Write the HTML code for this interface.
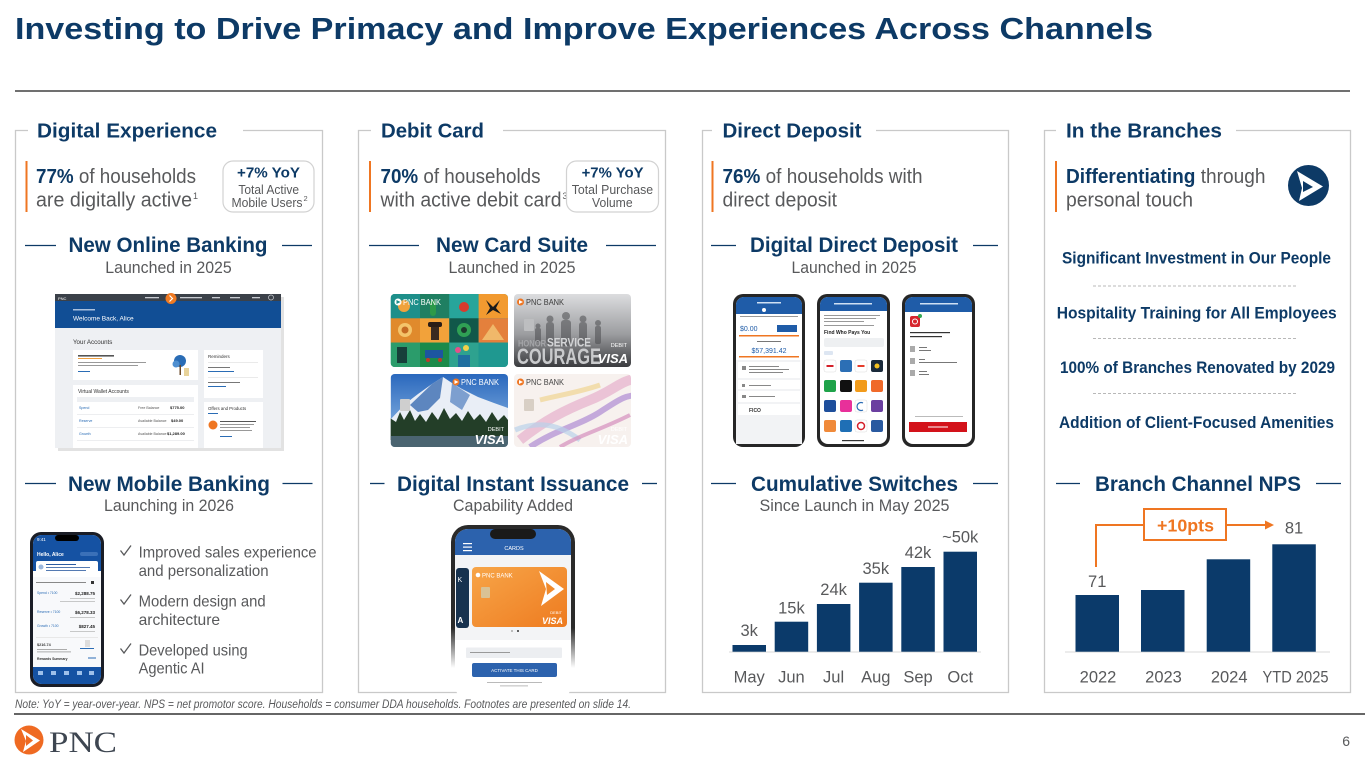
<!DOCTYPE html>
<html><head><meta charset="utf-8"><style>
html,body{margin:0;padding:0;background:#fff;}
svg{display:block;}
text{font-family:"Liberation Sans",sans-serif;}
.nv{fill:#0d3a66;}
.gr{fill:#58595b;}
.b{font-weight:bold;}
.serif{font-family:"Liberation Serif",serif;}
</style></head><body>
<svg width="1365" height="768" viewBox="0 0 1365 768" xmlns="http://www.w3.org/2000/svg">
<defs>
 <linearGradient id="gTR" x1="0" y1="0" x2="0" y2="1"><stop offset="0" stop-color="#dcdddf"/><stop offset="0.55" stop-color="#9c9da0"/><stop offset="1" stop-color="#3a3b3e"/></linearGradient>
 <linearGradient id="gSky" x1="0" y1="0" x2="0" y2="1"><stop offset="0" stop-color="#2a68bd"/><stop offset="1" stop-color="#9cc3ea"/></linearGradient>
 <linearGradient id="gOr" x1="0" y1="0" x2="1" y2="1"><stop offset="0" stop-color="#f7a548"/><stop offset="1" stop-color="#ee7b20"/></linearGradient>
 <linearGradient id="gFrame" gradientUnits="userSpaceOnUse" x1="0" y1="525" x2="0" y2="668"><stop offset="0.72" stop-color="#2a2a2a"/><stop offset="1" stop-color="#2a2a2a" stop-opacity="0"/></linearGradient>
 <clipPath id="cTL"><rect x="390.7" y="294" width="117.3" height="73" rx="4"/></clipPath>
 <clipPath id="cTR"><rect x="514" y="294" width="117" height="73" rx="4"/></clipPath>
 <clipPath id="cBL"><rect x="390.7" y="374" width="117.3" height="73" rx="4"/></clipPath>
 <clipPath id="cBR"><rect x="514" y="374" width="117" height="73" rx="4"/></clipPath>
 <clipPath id="cP1"><rect x="33" y="535" width="68" height="149" rx="9"/></clipPath>
 <clipPath id="cP2"><rect x="455" y="529" width="116" height="170" rx="13"/></clipPath>
</defs>

<!-- Title -->
<text x="15" y="39" font-size="31" class="nv b" textLength="1138" lengthAdjust="spacingAndGlyphs">Investing to Drive Primacy and Improve Experiences Across Channels</text>
<rect x="15" y="90" width="1335" height="2" fill="#707070"/>

<!-- Panels -->
<g fill="none" stroke="#c9c9c9" stroke-width="1.3">
 <path d="M28 130.5 H15.5 V692.5 H322.5 V130.5 H243"/>
 <path d="M371 130.5 H358.5 V692.5 H665.5 V130.5 H503"/>
 <path d="M712 130.5 H702.5 V692.5 H1008.5 V130.5 H876"/>
 <path d="M1056 130.5 H1044.5 V692.5 H1350.5 V130.5 H1236"/>
</g>

<!-- Panel headers -->
<g font-size="20.5" class="nv b">
 <text x="37" y="137.5" textLength="180" lengthAdjust="spacingAndGlyphs">Digital Experience</text>
 <text x="381" y="137.5" textLength="103" lengthAdjust="spacingAndGlyphs">Debit Card</text>
 <text x="722.5" y="137.5" textLength="139" lengthAdjust="spacingAndGlyphs">Direct Deposit</text>
 <text x="1066" y="137.5" textLength="156" lengthAdjust="spacingAndGlyphs">In the Branches</text>
</g>

<!-- orange bars -->
<g fill="#ef7622">
 <rect x="25.5" y="161" width="2" height="51"/>
 <rect x="369" y="161" width="2" height="51"/>
 <rect x="711.5" y="161" width="2" height="51"/>
 <rect x="1055" y="161" width="2" height="51"/>
</g>

<!-- stat texts -->
<g font-size="20" class="gr">
 <text x="36" y="183" textLength="160" lengthAdjust="spacingAndGlyphs"><tspan class="nv b">77%</tspan> of households</text>
 <text x="36" y="206.5" textLength="156" lengthAdjust="spacingAndGlyphs">are digitally active</text>
 <text x="193" y="199" font-size="9">1</text>
 <text x="380.5" y="183" textLength="160" lengthAdjust="spacingAndGlyphs"><tspan class="nv b">70%</tspan> of households</text>
 <text x="380.5" y="206.5" textLength="181" lengthAdjust="spacingAndGlyphs">with active debit card</text>
 <text x="562.5" y="199" font-size="9">3</text>
 <text x="722.5" y="183" textLength="200" lengthAdjust="spacingAndGlyphs"><tspan class="nv b">76%</tspan> of households with</text>
 <text x="722.5" y="206.5" textLength="114.5" lengthAdjust="spacingAndGlyphs">direct deposit</text>
 <text x="1066" y="183" textLength="199.5" lengthAdjust="spacingAndGlyphs"><tspan class="nv b">Differentiating</tspan> through</text>
 <text x="1066" y="206.5" textLength="127" lengthAdjust="spacingAndGlyphs">personal touch</text>
</g>

<!-- YoY boxes -->
<rect x="223" y="161" width="91" height="51" rx="10" fill="none" stroke="#d2d2d2" stroke-width="1.2"/>
<rect x="566.5" y="161" width="92" height="51" rx="10" fill="none" stroke="#d2d2d2" stroke-width="1.2"/>
<g text-anchor="middle">
 <text x="268.5" y="177.3" font-size="15" class="nv b" textLength="63" lengthAdjust="spacingAndGlyphs">+7% YoY</text>
 <text x="268.7" y="194" font-size="13" class="gr" textLength="60.7" lengthAdjust="spacingAndGlyphs">Total Active</text>
 <text x="267" y="207" font-size="13" class="gr" textLength="71" lengthAdjust="spacingAndGlyphs">Mobile Users</text>
 <text x="612.6" y="177.3" font-size="15" class="nv b" textLength="62" lengthAdjust="spacingAndGlyphs">+7% YoY</text>
 <text x="612.4" y="194" font-size="13" class="gr" textLength="81.3" lengthAdjust="spacingAndGlyphs">Total Purchase</text>
 <text x="612.3" y="207" font-size="13" class="gr" textLength="40.6" lengthAdjust="spacingAndGlyphs">Volume</text>
</g>
<text x="303.5" y="201" font-size="7.5" class="gr">2</text>

<!-- PNC logo panel 4 -->
<circle cx="1308.5" cy="185.5" r="20.5" fill="#0d3a66"/>
<polygon points="1297,171 1323,186.5 1299,201 1302,188" fill="#fff"/>
<polygon points="1303,181 1313,187 1303,192" fill="#0d3a66"/>

<!-- top subheaders -->
<g font-size="21" class="nv b" text-anchor="middle">
 <text x="168" y="252" textLength="199" lengthAdjust="spacingAndGlyphs">New Online Banking</text>
 <text x="512" y="252" textLength="152" lengthAdjust="spacingAndGlyphs">New Card Suite</text>
 <text x="854" y="252" textLength="208" lengthAdjust="spacingAndGlyphs">Digital Direct Deposit</text>
</g>
<g stroke="#0d3a66" stroke-width="1.3">
 <line x1="25" y1="245.5" x2="56" y2="245.5"/><line x1="282" y1="245.5" x2="312" y2="245.5"/>
 <line x1="369" y1="245.5" x2="419" y2="245.5"/><line x1="606" y1="245.5" x2="656" y2="245.5"/>
 <line x1="711" y1="245.5" x2="736" y2="245.5"/><line x1="973" y1="245.5" x2="998" y2="245.5"/>
</g>
<g font-size="16.5" class="gr" text-anchor="middle">
 <text x="168.5" y="273" textLength="126.5" lengthAdjust="spacingAndGlyphs">Launched in 2025</text>
 <text x="512" y="273" textLength="127" lengthAdjust="spacingAndGlyphs">Launched in 2025</text>
 <text x="854" y="273" textLength="125" lengthAdjust="spacingAndGlyphs">Launched in 2025</text>
</g>

<!-- Panel 4 list -->
<g font-size="17" class="nv b" text-anchor="middle">
 <text x="1196.5" y="263.3" textLength="269" lengthAdjust="spacingAndGlyphs">Significant Investment in Our People</text>
 <text x="1196.7" y="318.3" textLength="280" lengthAdjust="spacingAndGlyphs">Hospitality Training for All Employees</text>
 <text x="1197.5" y="373" textLength="275" lengthAdjust="spacingAndGlyphs">100% of Branches Renovated by 2029</text>
 <text x="1196.5" y="428" textLength="275" lengthAdjust="spacingAndGlyphs">Addition of Client-Focused Amenities</text>
</g>
<g stroke="#b8b8b8" stroke-width="1" stroke-dasharray="3 2">
 <line x1="1093" y1="286" x2="1298" y2="286"/>
 <line x1="1093" y1="338.5" x2="1298" y2="338.5"/>
 <line x1="1093" y1="393.5" x2="1298" y2="393.5"/>
</g>

<!-- Online banking screenshot -->
<g>
 <rect x="58" y="297" width="226" height="154" fill="#cfcfcf" opacity="0.6"/>
 <rect x="55" y="294" width="226" height="154" fill="#eef0f3"/>
 <rect x="55" y="294" width="226" height="7" fill="#3b4149"/>
 <rect x="55" y="301" width="226" height="27" fill="#114e95"/>
 <text x="58" y="299.8" font-size="4" fill="#fff">PNC</text>
 <g fill="#c8ccd2"><rect x="145" y="297" width="14" height="1.3"/><rect x="180" y="297" width="22" height="1.3"/><rect x="212" y="297" width="8" height="1.3"/><rect x="230" y="297" width="10" height="1.3"/><rect x="252" y="297" width="8" height="1.3"/></g>
 <circle cx="271" cy="297.5" r="2.5" fill="none" stroke="#c8ccd2" stroke-width="0.7"/>
 <circle cx="171" cy="298.5" r="5.5" fill="#f07a22"/>
 <path d="M169.5 295.5 L172.5 298.5 L169.5 301.5" stroke="#fff" stroke-width="1.2" fill="none"/>
 <rect x="73" y="309" width="22" height="1.5" fill="#a9c0de"/>
 <text x="73" y="320.5" font-size="6.5" fill="#fff">Welcome Back, Alice</text>
 <text x="73" y="344" font-size="6.2" fill="#333">Your Accounts</text>
 <rect x="73" y="350" width="125" height="30" fill="#fff"/>
 <rect x="78" y="355" width="36" height="1.6" fill="#555"/>
 <rect x="78" y="358" width="24" height="1" fill="#f0a040"/>
 <rect x="78" y="362" width="68" height="1" fill="#999"/><rect x="78" y="365" width="60" height="1" fill="#999"/>
 <rect x="78" y="371" width="12" height="1" fill="#2a6cb5"/>
 <circle cx="180" cy="361" r="6" fill="#2a6cb5"/><circle cx="176" cy="364" r="3.5" fill="#4f8fd0"/><rect x="179.5" y="365" width="1.5" height="10" fill="#6b4a2a"/>
 <rect x="184" y="368" width="5" height="8" fill="#e8d39a"/>
 <rect x="73" y="385" width="125" height="63" fill="#fff"/>
 <text x="78" y="393" font-size="5" fill="#333">Virtual Wallet Accounts</text>
 <rect x="77" y="397" width="117" height="5" fill="#eef0f3"/>
 <g font-size="3.6" fill="#2a6cb5"><text x="79" y="409">Spend</text><text x="79" y="422">Reserve</text><text x="79" y="435">Growth</text></g>
 <g font-size="3.6" fill="#555"><text x="138" y="409">Free Balance</text><text x="138" y="422">Available Balance</text><text x="138" y="435">Available Balance</text></g>
 <g font-size="4" fill="#222" font-weight="bold"><text x="170" y="409">$775.00</text><text x="171" y="422">$49.00</text><text x="167" y="435">$1,289.00</text></g>
 <g fill="#e5e7ea"><rect x="77" y="414" width="117" height="0.7"/><rect x="77" y="427" width="117" height="0.7"/><rect x="77" y="440" width="117" height="0.7"/></g>
 <rect x="204" y="350" width="59" height="48" fill="#fff"/>
 <text x="208" y="358" font-size="4.5" fill="#333">Reminders</text>
 <rect x="208" y="362" width="50" height="0.6" fill="#ddd"/>
 <rect x="208" y="367" width="22" height="1" fill="#777"/><rect x="208" y="371" width="26" height="1" fill="#2a6cb5"/>
 <rect x="208" y="377" width="50" height="0.6" fill="#ddd"/>
 <rect x="208" y="382" width="32" height="1" fill="#777"/><rect x="208" y="386" width="18" height="1" fill="#2a6cb5"/>
 <rect x="204" y="402" width="59" height="46" fill="#fff"/>
 <text x="208" y="410" font-size="4.3" fill="#333">Offers and Products</text>
 <rect x="208" y="413" width="10" height="1" fill="#2a6cb5"/>
 <circle cx="213" cy="425" r="4.5" fill="#ef7622"/>
 <rect x="220" y="421" width="36" height="1" fill="#555"/><rect x="220" y="424" width="34" height="1" fill="#999"/><rect x="220" y="427" width="30" height="1" fill="#999"/><rect x="220" y="430" width="32" height="1" fill="#999"/>
 <rect x="220" y="436" width="12" height="1" fill="#2a6cb5"/>
</g>

<!-- Debit cards -->
<g clip-path="url(#cTL)">
 <rect x="390.7" y="294" width="117.3" height="73" fill="#1f968f"/>
 <rect x="390.7" y="294" width="29.3" height="24.3" fill="#1d8f8a"/>
 <rect x="420" y="294" width="29.3" height="24.3" fill="#1f7f62"/>
 <rect x="449.3" y="294" width="29.3" height="24.3" fill="#27a59b"/>
 <rect x="478.6" y="294" width="29.4" height="24.3" fill="#f29a30"/>
 <rect x="390.7" y="318.3" width="29.3" height="24.3" fill="#e08a2c"/>
 <rect x="420" y="318.3" width="29.3" height="24.3" fill="#f2a23a"/>
 <rect x="449.3" y="318.3" width="29.3" height="24.3" fill="#11584a"/>
 <rect x="478.6" y="318.3" width="29.4" height="24.3" fill="#e4803c"/>
 <rect x="390.7" y="342.6" width="29.3" height="24.4" fill="#2b9c6b"/>
 <rect x="420" y="342.6" width="29.3" height="24.4" fill="#1c8a4a"/>
 <rect x="449.3" y="342.6" width="29.3" height="24.4" fill="#2ea28f"/>
 <rect x="478.6" y="342.6" width="29.4" height="24.4" fill="#1f9890"/>
 <circle cx="404" cy="306" r="6" fill="#f0a23c"/>
 <rect x="430" y="300" width="6" height="16" rx="3" fill="#2c9a49"/>
 <circle cx="464" cy="307" r="5" fill="#d93b2e"/>
 <path d="M486 300 L493 307 L500 300 L496 308 L501 314 L493 310 L486 315 L490 308 Z" fill="#1b1b1b"/>
 <circle cx="405" cy="330" r="7" fill="#f4c46a"/><circle cx="405" cy="330" r="3.5" fill="#c56a22"/>
 <rect x="428" y="322" width="14" height="5" rx="2" fill="#2a1d16"/><rect x="431" y="327" width="8" height="13" fill="#3a2a20"/>
 <circle cx="464" cy="330" r="7" fill="#2fa054"/><circle cx="464" cy="330" r="3" fill="#1b3b2e"/>
 <polygon points="482,340 493,324 504,340" fill="#f0b86a"/>
 <rect x="397" y="347" width="10" height="16" fill="#173f3a"/>
 <rect x="425" y="350" width="18" height="8" fill="#1d55a0"/><circle cx="428" cy="360" r="2" fill="#c0392b"/><circle cx="440" cy="360" r="2" fill="#c0392b"/>
 <circle cx="458" cy="350" r="3" fill="#e64f8a"/><circle cx="466" cy="348" r="3" fill="#f2d14a"/><rect x="458" y="355" width="12" height="12" fill="#1f6fa0"/>
</g>
<circle cx="398" cy="302" r="3.5" fill="#fff"/><polygon points="396.5,300 400.5,302 396.5,304" fill="#1d8f8a"/>
<text x="403" y="305" font-size="8.5" fill="#fff" textLength="38" lengthAdjust="spacingAndGlyphs">PNC BANK</text>

<g clip-path="url(#cTR)">
 <rect x="514" y="294" width="117" height="73" fill="url(#gTR)"/>
 <g fill="#4b4c4f" opacity="0.55">
  <circle cx="550" cy="319" r="3.5"/><rect x="546" y="322" width="8" height="22" rx="3"/>
  <circle cx="566" cy="316" r="4"/><rect x="561" y="320" width="10" height="26" rx="3"/>
  <circle cx="583" cy="319" r="3.5"/><rect x="579" y="322" width="8" height="22" rx="3"/>
  <circle cx="598" cy="323" r="3"/><rect x="595" y="326" width="6" height="18" rx="2"/>
  <circle cx="538" cy="326" r="2.5"/><rect x="535" y="328" width="6" height="14" rx="2"/>
 </g>
 <rect x="524" y="319" width="10" height="12" rx="1" fill="#bdbec0"/>
 <text x="518" y="346.5" font-size="9" font-weight="bold" fill="#a4a5a8" textLength="28" lengthAdjust="spacingAndGlyphs">HONOR</text>
 <text x="547" y="346.5" font-size="12" font-weight="bold" fill="#d4d5d7" textLength="44" lengthAdjust="spacingAndGlyphs">SERVICE</text>
 <text x="517" y="364" font-size="22" font-weight="bold" fill="#c9cacc" textLength="84" lengthAdjust="spacingAndGlyphs">COURAGE</text>
 <text x="627" y="347" font-size="5.5" fill="#fff" text-anchor="end">DEBIT</text>
 <text x="628" y="363" font-size="13" font-weight="bold" font-style="italic" fill="#fff" text-anchor="end">VISA</text>
</g>
<circle cx="520.5" cy="302" r="3.5" fill="#ef7622"/><polygon points="519,300 523,302 519,304" fill="#fff"/>
<text x="526" y="305" font-size="8.5" fill="#3a3a3a" textLength="38" lengthAdjust="spacingAndGlyphs">PNC BANK</text>

<g clip-path="url(#cBL)">
 <rect x="390.7" y="374" width="117.3" height="73" fill="url(#gSky)"/>
 <polygon points="390,420 405,404 418,394 432,384 443,377 452,383 462,389 478,397 494,403 508,408 508,430 390,430" fill="#e9eef6"/>
 <polygon points="432,384 443,377 440,398 428,410 418,412 410,405" fill="#5d86bf"/>
 <polygon points="452,383 470,395 462,410 450,402" fill="#7d9fcf"/>
 <polygon points="390,440 390,418 396,422 400,412 404,420 410,410 415,421 420,414 426,422 432,412 438,420 444,408 450,419 456,413 462,421 468,411 474,420 480,414 486,422 492,412 498,421 504,415 508,420 508,440" fill="#233e28"/>
 <rect x="390.7" y="436" width="117.3" height="11" fill="#4a6470"/>
 <rect x="400" y="399" width="10" height="12" rx="1" fill="#cfcfcf"/>
 <text x="504" y="431" font-size="5.5" fill="#fff" text-anchor="end">DEBIT</text>
 <text x="505" y="444" font-size="13" font-weight="bold" font-style="italic" fill="#fff" text-anchor="end">VISA</text>
</g>
<circle cx="456" cy="382" r="3.5" fill="#ef7622"/><polygon points="454.5,380 458.5,382 454.5,384" fill="#fff"/>
<text x="461" y="385" font-size="8.5" fill="#fff" textLength="38" lengthAdjust="spacingAndGlyphs">PNC BANK</text>

<g clip-path="url(#cBR)">
 <rect x="514" y="374" width="117" height="73" fill="#f7f1ee"/>
 <path d="M520 440 C545 420 565 410 590 400 S620 380 640 378" stroke="#e7b8cf" stroke-width="10" fill="none" opacity="0.8"/>
 <path d="M530 447 C555 430 580 425 600 412 S625 395 640 395" stroke="#b697d6" stroke-width="6" fill="none" opacity="0.8"/>
 <path d="M540 400 C560 395 580 392 600 385" stroke="#f0d89c" stroke-width="5" fill="none" opacity="0.8"/>
 <path d="M515 430 C540 420 560 425 580 440" stroke="#b9d2ea" stroke-width="5" fill="none" opacity="0.7"/>
 <path d="M560 447 C580 435 600 430 630 415" stroke="#d48fbe" stroke-width="4" fill="none" opacity="0.7"/>
 <rect x="524" y="399" width="10" height="12" rx="1" fill="#d8cfc5"/>
 <text x="627" y="431" font-size="5.5" fill="#fff" text-anchor="end">DEBIT</text>
 <text x="628" y="444" font-size="13" font-weight="bold" font-style="italic" fill="#fff" text-anchor="end">VISA</text>
</g>
<circle cx="520.5" cy="382" r="3.5" fill="#ef7622"/><polygon points="519,380 523,382 519,384" fill="#fff"/>
<text x="526" y="385" font-size="8.5" fill="#444" textLength="38" lengthAdjust="spacingAndGlyphs">PNC BANK</text>

<!-- Direct deposit phones -->
<g>
 <rect x="733" y="294" width="72" height="153" rx="10" fill="#262626"/>
 <rect x="736" y="297" width="66" height="147" rx="8" fill="#fff"/>
 <path d="M736 314 V305 a8 8 0 0 1 8 -8 H794 a8 8 0 0 1 8 8 V314 Z" fill="#1f5ca8"/>
 <rect x="757" y="302" width="24" height="1.5" fill="#cfe0f3"/>
 <circle cx="764" cy="310" r="2" fill="#fff"/>
 <rect x="740" y="316" width="58" height="1" fill="#999"/>
 <text x="740" y="331" font-size="7" fill="#1f5ca8">$0.00</text>
 <rect x="777" y="325" width="20" height="7" fill="#1f5ca8"/>
 <rect x="739" y="335" width="60" height="1.5" fill="#ef7622"/>
 <rect x="757" y="341" width="24" height="1" fill="#777"/>
 <text x="769" y="353" font-size="7" fill="#1f5ca8" text-anchor="middle">$57,391.42</text>
 <rect x="739" y="356" width="60" height="1.5" fill="#ef7622"/>
 <rect x="736" y="360" width="66" height="84" fill="#f2f3f5"/>
 <g fill="#fff"><rect x="738" y="362" width="62" height="16"/><rect x="738" y="380" width="62" height="9"/><rect x="738" y="391" width="62" height="11"/><rect x="738" y="404" width="62" height="11"/></g>
 <g fill="#888"><rect x="742" y="366" width="4" height="4"/><rect x="749" y="366" width="30" height="1"/><rect x="749" y="369" width="40" height="1"/><rect x="749" y="372" width="34" height="1"/><rect x="742" y="384" width="3" height="3"/><rect x="749" y="385" width="22" height="1"/><rect x="742" y="395" width="4" height="3"/><rect x="749" y="396" width="26" height="1"/></g>
 <text x="749" y="412" font-size="5" font-weight="bold" fill="#333">FICO</text>

 <rect x="817" y="294" width="73" height="153" rx="10" fill="#262626"/>
 <rect x="820" y="297" width="67" height="147" rx="8" fill="#fff"/>
 <path d="M820 311 V305 a8 8 0 0 1 8 -8 H879 a8 8 0 0 1 8 8 V311 Z" fill="#1f5ca8"/>
 <rect x="834" y="303" width="38" height="1.5" fill="#cfe0f3"/>
 <g fill="#999"><rect x="824" y="315" width="56" height="1"/><rect x="824" y="318" width="52" height="1"/><rect x="824" y="321" width="40" height="1"/><rect x="824" y="325" width="50" height="1"/></g>
 <text x="824" y="334" font-size="5" font-weight="bold" fill="#222">Find Who Pays You</text>
 <rect x="824" y="338" width="60" height="9" rx="2" fill="#eef0f2"/>
 <rect x="824" y="351" width="9" height="4" rx="1" fill="#dde6f2"/>
 <g>
  <rect x="824" y="360" width="12" height="12" rx="2" fill="#fff" stroke="#ddd" stroke-width="0.5"/><rect x="826.5" y="365" width="7" height="2" fill="#d4202a"/>
  <rect x="840" y="360" width="12" height="12" rx="2" fill="#2c6fb5"/>
  <rect x="855" y="360" width="12" height="12" rx="2" fill="#fff" stroke="#ddd" stroke-width="0.5"/><rect x="857.5" y="365" width="7" height="2" fill="#e63c2a"/>
  <rect x="871" y="360" width="12" height="12" rx="2" fill="#1a2a3a"/><circle cx="877" cy="366" r="2.5" fill="#f5c220"/>
  <rect x="824" y="380" width="12" height="12" rx="2" fill="#1fa34a"/>
  <rect x="840" y="380" width="12" height="12" rx="2" fill="#111"/>
  <rect x="855" y="380" width="12" height="12" rx="2" fill="#f29b1b"/>
  <rect x="871" y="380" width="12" height="12" rx="2" fill="#f06a2a"/>
  <rect x="824" y="400" width="12" height="12" rx="2" fill="#1e4f9c"/>
  <rect x="840" y="400" width="12" height="12" rx="2" fill="#e8309a"/>
  <rect x="855" y="400" width="12" height="12" rx="2" fill="#fff" stroke="#ddd" stroke-width="0.5"/><path d="M863 403 a4 4 0 1 0 0 7" stroke="#2a6cb5" stroke-width="1.2" fill="none"/>
  <rect x="871" y="400" width="12" height="12" rx="2" fill="#6b3fa0"/>
  <rect x="824" y="420" width="12" height="12" rx="2" fill="#f08a3a"/>
  <rect x="840" y="420" width="12" height="12" rx="2" fill="#1f6fb5"/>
  <rect x="855" y="420" width="12" height="12" rx="2" fill="#fff" stroke="#ddd" stroke-width="0.5"/><circle cx="861" cy="426" r="3.5" fill="none" stroke="#d4202a" stroke-width="1.5"/>
  <rect x="871" y="420" width="12" height="12" rx="2" fill="#2a5aa0"/>
 </g>
 <rect x="842" y="440" width="22" height="1.2" fill="#333"/>

 <rect x="902" y="294" width="73" height="153" rx="10" fill="#262626"/>
 <rect x="905" y="297" width="67" height="147" rx="8" fill="#fff"/>
 <path d="M905 312 V305 a8 8 0 0 1 8 -8 H964 a8 8 0 0 1 8 8 V312 Z" fill="#1f5ca8"/>
 <rect x="920" y="303" width="38" height="1.5" fill="#cfe0f3"/>
 <rect x="910" y="316" width="10" height="11" rx="2" fill="#d7262e"/><circle cx="915" cy="321.5" r="2.5" fill="none" stroke="#fff" stroke-width="1"/>
 <circle cx="920" cy="316" r="2" fill="#33a853"/>
 <g fill="#333"><rect x="910" y="332" width="40" height="1.2"/><rect x="910" y="336" width="32" height="1.2"/></g>
 <g fill="#aaa"><rect x="910" y="346" width="5" height="6"/><rect x="910" y="358" width="5" height="6"/><rect x="910" y="370" width="5" height="6"/></g>
 <g fill="#777"><rect x="919" y="347" width="8" height="1"/><rect x="919" y="350" width="12" height="1"/><rect x="919" y="359" width="6" height="1"/><rect x="919" y="362" width="38" height="1"/><rect x="919" y="371" width="8" height="1"/><rect x="919" y="374" width="10" height="1"/></g>
 <rect x="915" y="416" width="48" height="1" fill="#bbb"/>
 <rect x="909" y="422" width="58" height="10" fill="#d3121a"/>
 <rect x="928" y="426.5" width="20" height="1" fill="#fff"/>
</g>

<!-- bottom subheaders -->
<g font-size="21" class="nv b" text-anchor="middle">
 <text x="169" y="491" textLength="202" lengthAdjust="spacingAndGlyphs">New Mobile Banking</text>
 <text x="513" y="491" textLength="232" lengthAdjust="spacingAndGlyphs">Digital Instant Issuance</text>
 <text x="854.5" y="491" textLength="207" lengthAdjust="spacingAndGlyphs">Cumulative Switches</text>
 <text x="1198" y="491" textLength="206" lengthAdjust="spacingAndGlyphs">Branch Channel NPS</text>
</g>
<g stroke="#0d3a66" stroke-width="1.3">
 <line x1="25" y1="483.5" x2="56" y2="483.5"/><line x1="282.5" y1="483.5" x2="312.5" y2="483.5"/>
 <line x1="370" y1="483.5" x2="384.5" y2="483.5"/><line x1="642" y1="483.5" x2="657" y2="483.5"/>
 <line x1="711" y1="483.5" x2="736" y2="483.5"/><line x1="973" y1="483.5" x2="998" y2="483.5"/>
 <line x1="1056" y1="483.5" x2="1080" y2="483.5"/><line x1="1316" y1="483.5" x2="1341" y2="483.5"/>
</g>
<g font-size="16.5" class="gr" text-anchor="middle">
 <text x="169" y="511" textLength="130" lengthAdjust="spacingAndGlyphs">Launching in 2026</text>
 <text x="513" y="511" textLength="120" lengthAdjust="spacingAndGlyphs">Capability Added</text>
 <text x="854.5" y="511" textLength="190" lengthAdjust="spacingAndGlyphs">Since Launch in May 2025</text>
</g>

<!-- Mobile banking phone -->
<rect x="30" y="532" width="74" height="155" rx="11" fill="#1a1d26"/>
<g clip-path="url(#cP1)">
 <rect x="33" y="535" width="68" height="149" fill="#fff"/>
 <rect x="33" y="535" width="68" height="36" fill="#1552a3"/>
 <rect x="55" y="535" width="24" height="6" rx="3" fill="#000"/>
 <text x="37" y="541" font-size="4.5" fill="#fff">9:41</text>
 <text x="37" y="556" font-size="5" font-weight="bold" fill="#fff">Hello, Alice</text>
 <rect x="80" y="552" width="18" height="4" rx="2" fill="#3a70b8"/>
 <rect x="36" y="561" width="62" height="14" rx="2" fill="#fff"/>
 <circle cx="41" cy="567" r="2.5" fill="#9bb8de"/>
 <g fill="#2a5aa0"><rect x="46" y="564" width="30" height="1"/><rect x="46" y="567" width="44" height="0.8"/><rect x="46" y="570" width="40" height="0.8"/></g>
 <rect x="33" y="577" width="68" height="90" fill="#f8f9fb"/>
 <rect x="36" y="582" width="50" height="1" fill="#888"/><rect x="91" y="581" width="3" height="3" fill="#333"/>
 <g font-size="3.4" fill="#2a6cb5"><text x="37" y="594">Spend • 7100</text><text x="37" y="613">Reserve • 7100</text><text x="37" y="627">Growth • 7100</text></g>
 <g font-size="4.5" font-weight="bold" fill="#222" text-anchor="end"><text x="95" y="595">$2,288.75</text><text x="95" y="614">$6,278.33</text><text x="95" y="628">$827.45</text></g>
 <g fill="#bbb"><rect x="70" y="598" width="25" height="0.8"/><rect x="60" y="601" width="35" height="0.8"/><rect x="70" y="617" width="25" height="0.8"/><rect x="70" y="631" width="25" height="0.8"/></g>
 <rect x="36" y="637" width="62" height="0.6" fill="#ddd"/>
 <text x="37" y="646" font-size="3.8" font-weight="bold" fill="#333">$216.74</text>
 <g fill="#999"><rect x="37" y="649" width="30" height="0.8"/><rect x="37" y="651.5" width="34" height="0.8"/></g>
 <rect x="80" y="648" width="14" height="1" fill="#2a6cb5"/>
 <rect x="85" y="640" width="5" height="7" fill="#ddd"/>
 <text x="37" y="660" font-size="3.4" font-weight="bold" fill="#333">Rewards Summary</text>
 <rect x="88" y="657.5" width="8" height="1" fill="#2a6cb5"/>
 <rect x="33" y="667" width="68" height="17" fill="#1552a3"/>
 <g fill="#9ec0ea"><rect x="38" y="671" width="5" height="4"/><rect x="51" y="671" width="5" height="4"/><rect x="64" y="671" width="5" height="4"/><rect x="77" y="671" width="5" height="4"/><rect x="89" y="671" width="5" height="4"/></g>
</g>

<!-- checklist -->
<g stroke="#58595b" stroke-width="1.3" fill="none">
 <path d="M120.5 550.5 L124 555 L131 545.5"/>
 <path d="M120.5 599.5 L124 604 L131 594.5"/>
 <path d="M120.5 648.5 L124 653 L131 643.5"/>
</g>
<g font-size="16" class="gr">
 <text x="138.6" y="557.7" textLength="178" lengthAdjust="spacingAndGlyphs">Improved sales experience</text>
 <text x="138.6" y="576" textLength="130" lengthAdjust="spacingAndGlyphs">and personalization</text>
 <text x="138.6" y="606.5" textLength="127" lengthAdjust="spacingAndGlyphs">Modern design and</text>
 <text x="138.6" y="625" textLength="81.5" lengthAdjust="spacingAndGlyphs">architecture</text>
 <text x="138.6" y="655.3" textLength="109" lengthAdjust="spacingAndGlyphs">Developed using</text>
 <text x="138.6" y="673.5" textLength="66" lengthAdjust="spacingAndGlyphs">Agentic AI</text>
</g>

<!-- Digital instant issuance phone -->
<rect x="451" y="525" width="124" height="165" rx="17" fill="url(#gFrame)"/>
<g clip-path="url(#cP2)">
 <rect x="455" y="529" width="116" height="170" fill="#fff"/>
 <rect x="455" y="529" width="116" height="26" fill="#2c62ad"/>
 <rect x="490" y="529" width="46" height="10" rx="5" fill="#1a1a1a"/>
 <g fill="#fff"><rect x="463" y="543" width="9" height="1.2"/><rect x="463" y="546.5" width="9" height="1.2"/><rect x="463" y="550" width="9" height="1.2"/></g>
 <text x="514" y="550" font-size="5.5" fill="#fff" text-anchor="middle">CARDS</text>
 <rect x="455" y="555" width="116" height="85" fill="#f3f4f6"/>
 <rect x="456" y="568" width="13" height="60" rx="3" fill="#17324f"/>
 <text x="457.5" y="582" font-size="7" fill="#fff">K</text>
 <text x="457.5" y="623" font-size="8" font-weight="bold" fill="#fff">A</text>
 <rect x="472" y="567" width="95" height="60" rx="4" fill="url(#gOr)"/>
 <polygon points="539,571 564,589 541,606 546,589" fill="#fff"/>
 <polygon points="546,582 555,589 547,595" fill="#f08a2c"/>
 <circle cx="478" cy="575" r="2.3" fill="#fff"/>
 <text x="482" y="577.5" font-size="6" fill="#fff">PNC BANK</text>
 <rect x="481" y="587" width="9" height="11" rx="1" fill="#d9c295"/>
 <text x="562" y="614" font-size="4" fill="#fff" text-anchor="end">DEBIT</text>
 <text x="563" y="624" font-size="9" font-weight="bold" font-style="italic" fill="#fff" text-anchor="end">VISA</text>
 <circle cx="512" cy="631" r="1" fill="#aaa"/><circle cx="518" cy="631" r="1" fill="#333"/>
 <rect x="466" y="647.5" width="96" height="10.5" rx="1" fill="#eceef1"/>
 <rect x="470" y="652" width="40" height="1" fill="#999"/>
 <rect x="472" y="663" width="85" height="14" rx="2" fill="#2c62ad"/>
 <text x="514.5" y="672" font-size="4.5" fill="#fff" text-anchor="middle">ACTIVATE THIS CARD</text>
 <rect x="487" y="682" width="55" height="0.8" fill="#aaa"/>
 <rect x="500" y="685.5" width="28" height="0.8" fill="#aaa"/>
</g>

<!-- Cumulative switches chart -->
<line x1="729" y1="652" x2="981" y2="652" stroke="#d9d9d9" stroke-width="1"/>
<g fill="#0b3a6a">
 <rect x="732.5" y="645" width="33.5" height="6.7"/>
 <rect x="774.7" y="621.7" width="33.5" height="30"/>
 <rect x="816.9" y="604" width="33.5" height="47.7"/>
 <rect x="859.1" y="582.7" width="33.5" height="69"/>
 <rect x="901.3" y="567" width="33.5" height="84.7"/>
 <rect x="943.5" y="551.7" width="33.5" height="100"/>
</g>
<g font-size="16.5" class="gr" text-anchor="middle">
 <text x="749.2" y="636">3k</text>
 <text x="791.4" y="613.5">15k</text>
 <text x="833.6" y="595">24k</text>
 <text x="875.8" y="574">35k</text>
 <text x="918" y="558">42k</text>
 <text x="960.2" y="542.5">~50k</text>
 <text x="749.2" y="682.5">May</text>
 <text x="791.4" y="682.5">Jun</text>
 <text x="833.6" y="682.5">Jul</text>
 <text x="875.8" y="682.5">Aug</text>
 <text x="918" y="682.5">Sep</text>
 <text x="960.2" y="682.5">Oct</text>
</g>

<!-- NPS chart -->
<line x1="1065" y1="652" x2="1330" y2="652" stroke="#d9d9d9" stroke-width="1"/>
<g fill="#0b3a6a">
 <rect x="1075.5" y="595" width="43.5" height="56.7"/>
 <rect x="1141" y="590" width="43.5" height="61.7"/>
 <rect x="1206.7" y="559.3" width="43.5" height="92.4"/>
 <rect x="1272.3" y="544.3" width="43.5" height="107.4"/>
</g>
<g font-size="16.5" class="gr" text-anchor="middle">
 <text x="1097.2" y="587">71</text>
 <text x="1294" y="533.3">81</text>
 <text x="1098" y="682.5">2022</text>
 <text x="1163.5" y="682.5">2023</text>
 <text x="1229.2" y="682.5">2024</text>
 <text x="1295.5" y="682.5" textLength="66" lengthAdjust="spacingAndGlyphs">YTD 2025</text>
</g>
<g stroke="#ef7622" stroke-width="2" fill="none">
 <polyline points="1096,567 1096,525 1144,525"/>
 <rect x="1144" y="509" width="82" height="31"/>
 <line x1="1226" y1="525" x2="1266" y2="525"/>
</g>
<polygon points="1265,520.5 1274,525 1265,529.5" fill="#ef7622"/>
<text x="1185.5" y="531.7" font-size="17.5" font-weight="bold" fill="#ef7622" text-anchor="middle" textLength="57" lengthAdjust="spacingAndGlyphs">+10pts</text>

<!-- Footer -->
<text x="15" y="708" font-size="11.5" font-style="italic" class="gr" textLength="616" lengthAdjust="spacingAndGlyphs">Note: YoY = year-over-year. NPS = net promotor score. Households = consumer DDA households. Footnotes are presented on slide 14.</text>
<line x1="14" y1="714" x2="1365" y2="714" stroke="#333" stroke-width="1.5"/>
<circle cx="29" cy="740" r="14.5" fill="#ef6a22"/>
<polygon points="21,729 40,740.5 23,752 26,741" fill="#fff"/>
<polygon points="26,735 33,740.5 26,746" fill="#ef6a22"/>
<text x="49" y="752" class="serif" style="font-family:'Liberation Serif',serif" font-size="30" fill="#3e4651" textLength="68" lengthAdjust="spacingAndGlyphs">PNC</text>
<text x="1350" y="746" font-size="14" class="gr" text-anchor="end">6</text>
</svg>
</body></html>
